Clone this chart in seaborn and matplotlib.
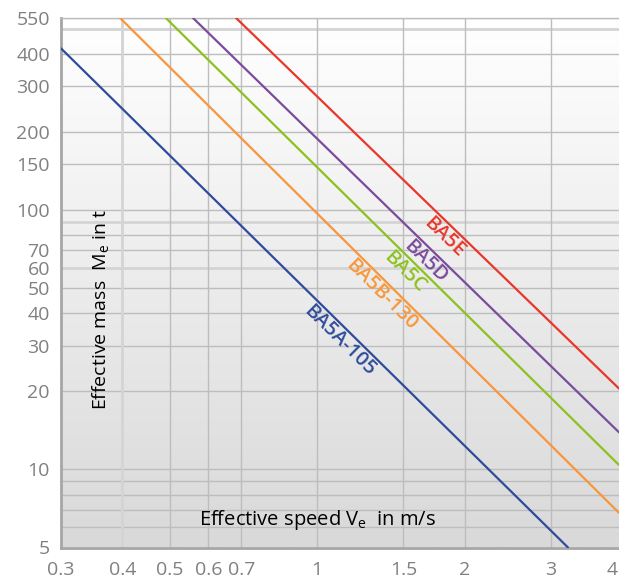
import numpy as np
import pandas as pd
import matplotlib
matplotlib.use('Agg')
import matplotlib.pyplot as plt
import seaborn as sns

# =========================
#  DATA
# =========================

series = ['BA5A-105', 'BA5B-130', 'BA5C', 'BA5D', 'BA5E']
colors = ['#2f4c9c', '#f7973a', '#8cc21f', '#7b4b9c', '#e8372b']

# start / end points of each line (speed m/s, mass t)
speed_start = [0.30, 0.396, 0.491, 0.558, 0.683]
mass_start = [420, 550, 550, 550, 550]
speed_end = [3.25, 4.13, 4.13, 4.13, 4.13]
mass_end = [5.0, 6.8, 10.4, 13.9, 20.5]

# x position where each curve label sits
label_speed = [1.11, 1.35, 1.51, 1.66, 1.82]

x_ticks = [0.3, 0.4, 0.5, 0.6, 0.7, 1, 1.5, 2, 3, 4]
x_ticklabels = ['0.3', '0.4', '0.5', '0.6', '0.7', '1', '1.5', '2', '3', '4']
y_ticks = [5, 10, 20, 30, 40, 50, 60, 70, 100, 150, 200, 300, 400, 550]
y_ticklabels = [str(v) for v in y_ticks]
y_grid = [6, 7, 8, 9, 10, 20, 30, 40, 50, 70, 80, 100, 150, 200, 300, 400, 550]
y_grid_light = [60, 90, 500]
x_grid = [0.5, 0.6, 0.7, 1, 1.5, 2, 3]
x_grid_light = [0.4]


def build_frame():
    rows = []
    for name, x0, y0, x1, y1 in zip(series, speed_start, mass_start, speed_end, mass_end):
        rows.append({'series': name, 'speed': x0, 'mass': y0})
        rows.append({'series': name, 'speed': x1, 'mass': y1})
    return pd.DataFrame(rows)


def main():
    sns.set_theme(style='white')
    plt.rcParams['font.family'] = ['Open Sans', 'DejaVu Sans']

    df = build_frame()

    fig = plt.figure(figsize=(6.19, 5.75), dpi=100)
    ax = fig.add_axes([61 / 619, 27.5 / 575, 558 / 619, 529.5 / 575])

    # background gradient
    grad = np.linspace(1, 0, 256).reshape(-1, 1)
    cmap = matplotlib.colors.LinearSegmentedColormap.from_list('bg', ['#d9d9d9', '#ffffff'])
    ax.imshow(grad, extent=[0, 1, 0, 1], transform=ax.transAxes, aspect='auto',
              cmap=cmap, origin='upper', zorder=0)

    ax.set_xscale('log')
    ax.set_yscale('log')
    ax.set_xlim(0.3, 4.13)
    ax.set_ylim(5, 550)

    for v in y_grid:
        ax.axhline(v, color='#bdbdbd', lw=1.0, zorder=1)
    for v in y_grid_light:
        ax.axhline(v, color='#d4d4d4', lw=2.0, zorder=1)
    for v in x_grid:
        ax.axvline(v, color='#bdbdbd', lw=1.0, zorder=1)
    for v in x_grid_light:
        ax.axvline(v, color='#d4d4d4', lw=2.0, zorder=1)

    sns.lineplot(data=df, x='speed', y='mass', hue='series', hue_order=series,
                 palette=colors, lw=1.6, legend=False, ax=ax, zorder=3, sort=False)

    ax.set_xlim(0.3, 4.13)
    ax.set_ylim(5, 550)
    ax.set_xticks(x_ticks)
    ax.set_xticklabels(x_ticklabels)
    ax.set_yticks(y_ticks)
    ax.set_yticklabels(y_ticklabels)
    ax.minorticks_off()
    ax.tick_params(axis='both', colors='#8c8c8c', labelcolor='#808080', labelsize=14,
                   direction='out', width=1.2)
    ax.tick_params(axis='x', length=5.5, pad=4.5)
    ax.tick_params(axis='y', length=5.5, pad=2.5)
    ax.set_xlabel('')
    ax.set_ylabel('')

    for side in ['left', 'bottom']:
        ax.spines[side].set_color('#a6a6a6')
        ax.spines[side].set_linewidth(2.0)
    ax.spines['top'].set_color('#bdbdbd')
    ax.spines['top'].set_linewidth(1.0)
    ax.spines['right'].set_visible(False)

    # curve labels along each line
    for name, col, x0, y0, x1, y1, xl in zip(series, colors, speed_start, mass_start,
                                             speed_end, mass_end, label_speed):
        t = np.log(xl / x0) / np.log(x1 / x0)
        yl = np.exp(np.log(y0) + t * np.log(y1 / y0))
        p0 = ax.transData.transform((x0, y0))
        p1 = ax.transData.transform((x1, y1))
        ang = np.degrees(np.arctan2(p1[1] - p0[1], p1[0] - p0[0]))
        ax.annotate(name, (xl, yl), xytext=(0, -18), textcoords='offset pixels',
                    ha='center', va='center', rotation=ang, rotation_mode='anchor',
                    color=col, fontsize=14.5, fontweight='semibold', zorder=4)

    ax.text(0.459, 0.052, r'Effective speed V$_\mathregular{e}$  in m/s',
            transform=ax.transAxes, ha='center', va='center', fontsize=14.5,
            color='black', zorder=4)
    ax.text(0.072, 0.45, r'Effective mass  M$_\mathregular{e}$ in t',
            transform=ax.transAxes, ha='center', va='center', rotation=90,
            fontsize=14, color='black', zorder=4)

    fig.savefig('out.png', dpi=100)
    plt.close(fig)


if __name__ == '__main__':
    main()
